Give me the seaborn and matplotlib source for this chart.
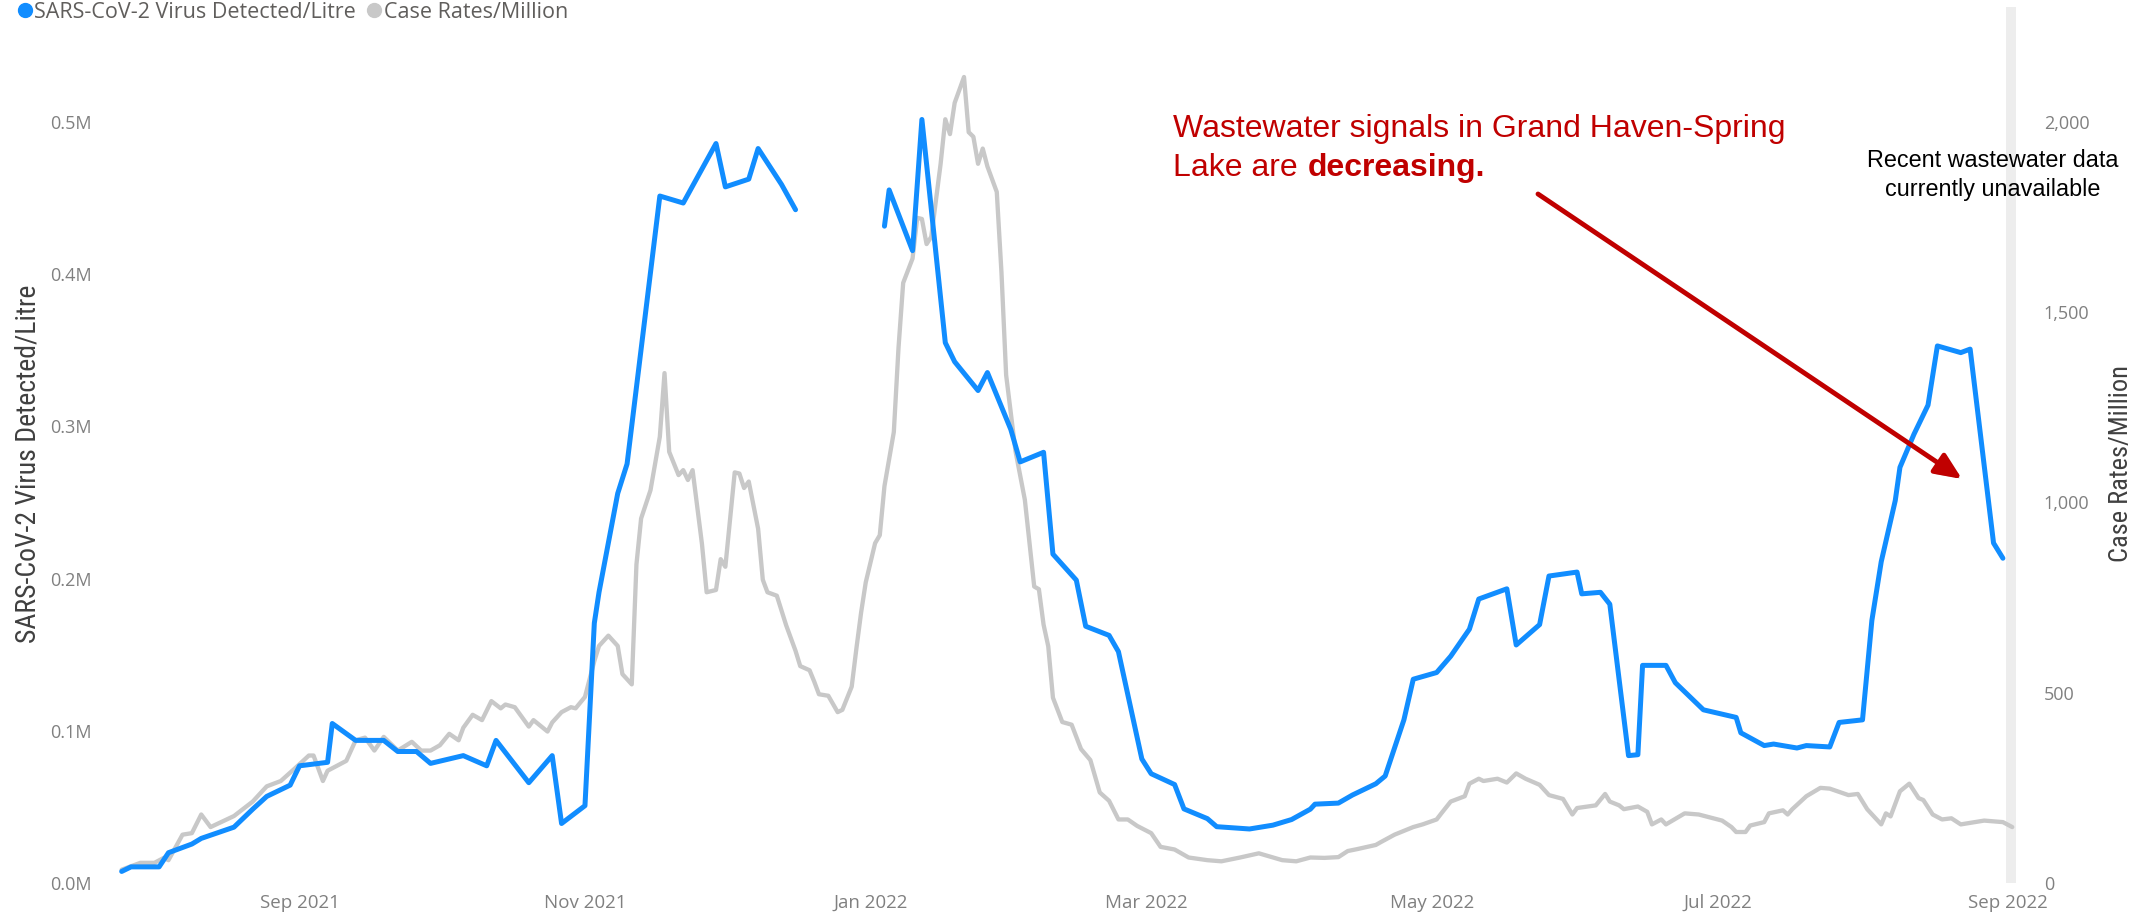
import numpy as np
import pandas as pd
import matplotlib.pyplot as plt
import matplotlib.dates as mdates
import matplotlib.patheffects as pe
from matplotlib.lines import Line2D
from matplotlib.ticker import FuncFormatter
from matplotlib import font_manager
import seaborn as sns

# days are counted from 2021-09-01
START = pd.Timestamp('2021-09-01')

# wastewater, first run of samples (copies per litre)
ww_days_1 = [-38, -36, -30, -28, -23, -21, -14, -10, -7, -2, 0, 6, 7, 12, 18, 21, 25, 28, 35, 40,
             42, 49, 54, 56, 61, 63, 64, 68, 70, 77, 82, 89, 91, 96, 98, 103, 106]
ww_vals_1 = [7600, 10600, 10600, 19900, 25600, 29300, 36700, 48500, 56900, 64300, 77000, 79300,
             104800, 93700, 93700, 86400, 86400, 78600, 83700, 77000, 93700, 65900, 83700, 39100,
             50800, 170800, 191000, 256000, 275400, 451400, 446800, 485900, 457400, 462500,
             482600, 459000, 442400]

# wastewater after the gap around new year
ww_days_2 = [125, 126, 131, 133, 138, 140, 145, 147, 152, 154, 159, 161, 166, 168, 173, 175, 180,
             182, 187, 189, 194, 196, 203, 208, 212, 216, 217, 222, 225, 230, 232, 236, 238, 243,
             246, 250, 252, 258, 260, 265, 267, 273, 274, 278, 280, 284, 286, 287, 292, 294, 300,
             307, 308, 313, 315, 320, 322, 327, 329, 334, 336, 338, 341, 342, 345, 348, 350, 355,
             357, 362, 364]
ww_vals_2 = [431600, 455400, 415500, 501700, 355000, 342500, 323600, 335400, 298000, 276700,
             283000, 216100, 199000, 168700, 162700, 152000, 81500, 71800, 64700, 48700, 42300,
             37000, 35500, 38000, 41700, 48500, 51800, 52500, 57800, 65200, 70300, 107200, 133900,
             138300, 149000, 166800, 186600, 193300, 156400, 169800, 201700, 204300, 190000,
             191000, 183200, 83700, 84300, 143000, 143000, 131600, 113800, 108800, 98700, 90300,
             91300, 88700, 90300, 89400, 105500, 107200, 172500, 211100, 251300, 273100, 294900,
             314000, 352900, 348500, 350800, 223400, 213400]

# case rates per million
case_days = [-38, -34, -31, -29, -28, -25, -23, -21, -19, -14, -10, -7, -4, -1, 2, 3, 5, 6, 10, 12,
             14, 16, 18, 21, 24, 26, 28, 30, 32, 34, 35, 37, 39, 41, 43, 44, 46, 49, 50, 53,
             54, 56, 58, 59, 61, 63, 64, 66, 68, 69, 71, 72, 73, 75, 77, 78, 79, 81, 82, 83,
             84, 86, 87, 89, 90, 91, 93, 94, 95, 96, 98, 99, 100, 102, 104, 106, 107, 109, 110, 111,
             113, 115, 116, 118, 119, 120, 121, 123, 124, 125, 127, 128, 129, 131, 132, 133, 134,
             135, 137, 138, 139, 140, 142, 143, 144, 145, 146, 147, 149, 150, 151, 153, 155, 157,
             158, 159, 160, 161, 163, 165, 167, 169, 171, 173, 175, 177, 179, 182, 184, 187,
             190, 194, 197, 201, 205, 210, 213, 216, 219, 222, 224, 226, 230, 231, 234, 236, 238,
             240, 243, 244, 246, 249, 250, 252, 253, 256, 258, 260, 262, 265, 267, 270, 272, 273,
             277, 279, 280, 282, 283, 286, 288, 289, 291, 292, 296, 299, 304, 306, 307, 309,
             310, 313, 314, 317, 318, 319, 322, 325, 327, 331, 333, 335, 338, 339, 340, 342, 344,
             346, 347, 349, 351, 353, 355, 360, 364, 366]
case_vals = [35, 53, 53, 66, 60, 127, 131, 180, 147, 176, 214, 254, 268, 301, 335, 335, 268, 295, 321, 375,
             382, 348, 384, 348, 371, 348, 348, 362, 392, 375, 408, 442, 428, 478, 459, 469, 462, 411, 428, 398,
             422, 449, 462, 459, 489, 583, 623, 650, 623, 549, 522, 837, 958, 1032, 1173, 1340, 1133, 1072,
             1085, 1059, 1085, 891, 764, 770, 851, 831, 1079, 1076, 1038, 1055, 931, 797, 764, 755, 677, 610,
             570, 559, 529, 496, 492, 449, 455, 516, 616, 710, 790, 893, 914, 1043, 1185, 1406, 1577, 1641,
             1748, 1745, 1679, 1698, 1890, 2007, 1968, 2050, 2118, 1973, 1961, 1890, 1930, 1883, 1816, 1605,
             1335, 1135, 1007, 779, 772, 679, 622, 487, 423, 416, 352, 323, 238, 216, 167, 167, 150, 131,
             95, 88, 67, 60, 57, 67, 78, 60, 57, 67, 66, 68, 84, 89, 100, 107, 127, 137, 147, 154, 167,
             183, 214, 228, 261, 274, 268, 274, 264, 288, 274, 258, 231, 221, 180, 197, 204, 234, 214,
             204, 194, 201, 187, 154, 167, 154, 183, 180, 164, 147, 134, 134, 151, 160, 183, 191, 180,
             194, 228, 250, 248, 231, 234, 194, 154, 183, 175, 241, 261, 223, 218, 180, 167, 170, 154,
             164, 160, 147]

left_ticks = [0, 100000, 200000, 300000, 400000, 500000]
right_ticks = [0, 500, 1000, 1500, 2000]

BLUE = '#118DFF'
GREY = '#C8C8C8'
RED = '#C00000'


def to_dates(days):
    return START + pd.to_timedelta(np.asarray(days, dtype=float), unit='D')


ww1 = pd.DataFrame({'date': to_dates(ww_days_1), 'value': ww_vals_1})
ww2 = pd.DataFrame({'date': to_dates(ww_days_2), 'value': ww_vals_2})
cases = pd.DataFrame({'date': to_dates(case_days), 'value': case_vals})

sns.set_theme(style='white')
installed = {f.name for f in font_manager.fontManager.ttflist}
narrow = next((n for n in ['Liberation Sans Narrow', 'Roboto Condensed', 'DejaVu Sans Condensed']
               if n in installed), 'Liberation Sans')
plt.rcParams['font.family'] = ['Open Sans', 'DejaVu Sans']

W, H = 2146, 914
fig = plt.figure(figsize=(W / 100, H / 100), dpi=100)
ax = fig.add_axes([117 / W, 31 / H, 1899 / W, 876 / H])
ax2 = ax.twinx()

# grey band at the right end and the case rate line sit on the secondary axis
ax2.axvspan(to_dates([364.7])[0], to_dates([366.8])[0], color='#EDEDED', zorder=0, lw=0)
sns.lineplot(data=cases, x='date', y='value', ax=ax2, color=GREY, linewidth=3.1, legend=False)

for seg in (ww1, ww2):
    sns.lineplot(data=seg, x='date', y='value', ax=ax, color=BLUE, linewidth=3.6, legend=False)

ax.set_zorder(ax2.get_zorder() + 1)
ax.patch.set_visible(False)

ax.set_xlim(to_dates([-39])[0], to_dates([366.8])[0])
ax.set_ylim(0, 575600)
ax2.set_ylim(0, 2302)
ax.set_yticks(left_ticks)
ax2.set_yticks(right_ticks)
ax.yaxis.set_major_formatter(FuncFormatter(lambda v, p: f'{v / 1e6:.1f}M'))
ax2.yaxis.set_major_formatter(FuncFormatter(lambda v, p: f'{v:,.0f}'))
ax.xaxis.set_major_locator(mdates.MonthLocator(bymonth=[1, 3, 5, 7, 9, 11]))
ax.xaxis.set_major_formatter(mdates.DateFormatter('%b %Y'))

tick_col = '#808080'
ax.tick_params(axis='y', length=0, pad=18, labelsize=13, labelcolor=tick_col)
ax.tick_params(axis='x', length=0, pad=8, labelsize=13.5, labelcolor=tick_col)
ax2.tick_params(axis='y', length=0, pad=20, labelsize=13, labelcolor=tick_col)
for a in (ax, ax2):
    for s in a.spines.values():
        s.set_visible(False)
    a.grid(False)

ax.set_xlabel('')
ax.set_ylabel('SARS-CoV-2 Virus Detected/Litre', fontfamily=narrow, fontsize=20, color='#404040')
ax.yaxis.set_label_coords(-0.040, 0.478)
ax2.set_ylabel('Case Rates/Million', fontfamily=narrow, fontsize=19, color='#404040', rotation=90)
ax2.yaxis.set_label_coords(1.049, 0.479)

# legend with round markers
handles = [Line2D([], [], marker='o', linestyle='', color=BLUE, markersize=10),
           Line2D([], [], marker='o', linestyle='', color=GREY, markersize=10)]
fig.legend(handles, ['SARS-CoV-2 Virus Detected/Litre', 'Case Rates/Million'],
           loc='upper left', bbox_to_anchor=(0.002, 1.01), frameon=False, ncol=2,
           fontsize=15.5, handletextpad=0.0, columnspacing=0.4, handlelength=0.9,
           borderpad=0, labelcolor='#605E5C')

# call-out text and arrow
fig.text(1173 / W, 1 - 137 / H, 'Wastewater signals in Grand Haven-Spring',
         fontfamily='Liberation Sans', fontsize=23, color=RED, va='baseline')
t2 = fig.text(1173 / W, 1 - 176 / H, 'Lake are', fontfamily='Liberation Sans', fontsize=23,
              color=RED, va='baseline')
ax.annotate('decreasing.', xy=(1, 0), xycoords=t2, xytext=(7, 0), textcoords='offset points',
            ha='left', va='bottom', fontfamily='Liberation Sans', fontsize=23,
            fontweight='bold', color=RED, annotation_clip=False)
ax.annotate('', xy=(1962 / W, 1 - 479 / H), xytext=(1538 / W, 1 - 194 / H),
            xycoords='figure fraction', textcoords='figure fraction', annotation_clip=False,
            arrowprops=dict(arrowstyle='-|>,head_length=0.8,head_width=0.35', mutation_scale=20,
                            color=RED, lw=3.5, shrinkA=0, shrinkB=0,
                            path_effects=[pe.withSimplePatchShadow(offset=(2, -2), alpha=0.35)]))

fig.text(1993 / W, 1 - 175 / H, 'Recent wastewater data\ncurrently unavailable',
         fontfamily='Liberation Sans', fontsize=16.8, color='black', ha='center', va='center',
         linespacing=1.3)

fig.savefig('out.png', dpi=100)
